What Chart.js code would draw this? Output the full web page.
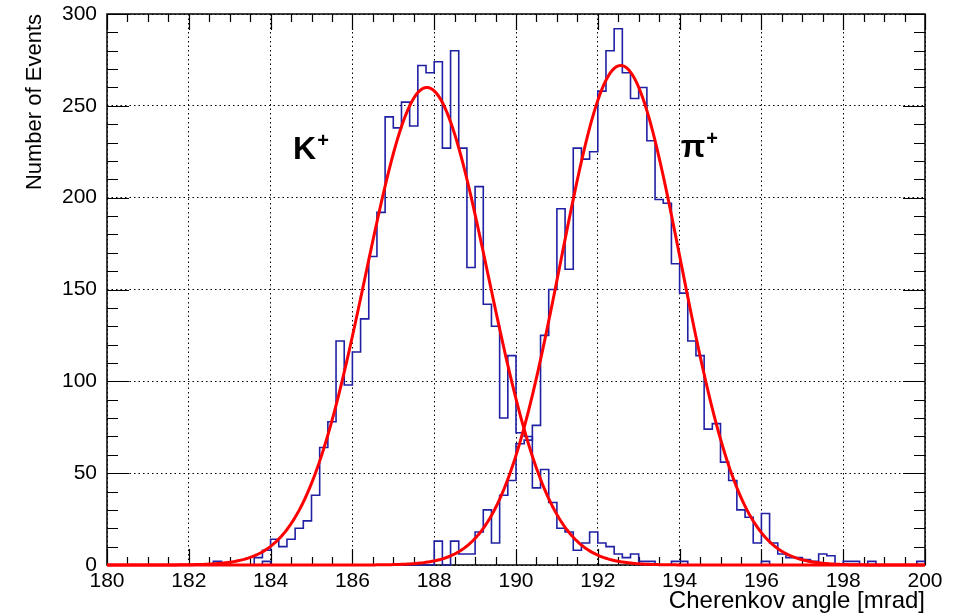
<!DOCTYPE html>
<html lang="en">
<head>
<meta charset="UTF-8">
<title>Cherenkov angle</title>
<script src="https://cdn.jsdelivr.net/npm/chart.js@4.4.1/dist/chart.umd.min.js"></script>
<style>
    html, body { margin: 0; padding: 0; background: #fff; }
    #wrap { width: 970px; height: 616px; }
</style>
</head>
<body>
<div id="wrap"><canvas id="chart" width="970" height="616"></canvas></div>
<script>
// binning of both histograms (mrad)
var xMin = 180, xMax = 200, binWidth = 0.2;

// events per 0.2 mrad bin, 100 bins from 180 to 200
var kaonCounts = [
    0, 0, 0, 0, 0, 0, 0, 0, 0, 0,
    0, 0, 0, 2, 0, 0, 0, 0, 4, 8,
    14, 10, 14, 20, 24, 38, 64, 78, 122, 98,
    116, 134, 168, 192, 244, 238, 252, 239, 272, 268,
    274, 227, 280, 227, 162, 206, 142, 130, 80, 114,
    72, 70, 42, 52, 34, 20, 18, 8, 12, 18,
    12, 10, 6, 4, 6, 2, 2, 0, 0, 2,
    2, 0, 0, 0, 0, 0, 0, 0, 0, 0,
    2, 0, 0, 0, 0, 0, 0, 0, 0, 0,
    0, 0, 0, 0, 0, 0, 0, 0, 0, 0
];
var pionCounts = [
    0, 0, 0, 0, 0, 0, 0, 0, 0, 0,
    0, 0, 0, 0, 0, 0, 0, 0, 0, 2,
    0, 0, 0, 0, 0, 0, 0, 0, 0, 0,
    0, 0, 0, 0, 0, 0, 0, 0, 0, 0,
    13, 0, 13, 6, 6, 18, 30, 12, 38, 46,
    66, 68, 76, 125, 150, 194, 161, 227, 221, 225,
    258, 280, 292, 268, 254, 260, 231, 199, 197, 164,
    148, 122, 114, 74, 77, 56, 46, 30, 26, 12,
    28, 12, 6, 4, 4, 3, 2, 6, 5, 0,
    2, 2, 0, 2, 0, 0, 0, 0, 0, 2
];

// gaussian fits (red curves), K+ then pi+
var fitAmplitude = [260, 272];
var fitMean = [187.82, 192.56];
var fitSigma = [1.50, 1.47];

// axis ticks
var xTickStep = 2, xMinorStep = 0.5;
var yMax = 300, yTickStep = 50, yMinorStep = 10;

// particle labels, placed in data coordinates
var labelText = ['K', 'π'];
var labelX = [184.55, 194.03];
var labelY = [221, 222];

var fontFamily = '"Liberation Sans", Arial, Helvetica, sans-serif';
var histColor = '#2020a4';

function histPoints(counts) {
    var pts = [];
    for (var i = 0; i < counts.length; i++) {
        pts.push({ x: Math.round((xMin + i * binWidth) * 10) / 10, y: counts[i] });
    }
    pts.push({ x: xMax, y: counts[counts.length - 1] });
    return pts;
}

function fitPoints(k) {
    var pts = [];
    for (var i = 0; i <= 400; i++) {
        var x = xMin + i * (xMax - xMin) / 400;
        var d = (x - fitMean[k]) / fitSigma[k];
        pts.push({ x: x, y: fitAmplitude[k] * Math.exp(-0.5 * d * d) });
    }
    return pts;
}

// ROOT style frame with inward ticks on all four sides
var rootFrame = {
    id: 'rootFrame',
    beforeDatasetsDraw: function (chart) {
        var c = chart.ctx, a = chart.chartArea;
        var xs = chart.scales.x, ys = chart.scales.y;
        c.save();
        c.strokeStyle = '#000';
        c.lineWidth = 1.2;
        c.beginPath();
        var nx = Math.round((xMax - xMin) / xMinorStep);
        var perMajorX = Math.round(xTickStep / xMinorStep);
        for (var i = 0; i <= nx; i++) {
            var px = Math.round(xs.getPixelForValue(xMin + i * xMinorStep)) + 0.5;
            var len = (i % perMajorX === 0) ? 16 : 8;
            c.moveTo(px, a.bottom); c.lineTo(px, a.bottom - len);
            c.moveTo(px, a.top); c.lineTo(px, a.top + len);
        }
        var ny = Math.round(yMax / yMinorStep);
        var perMajorY = Math.round(yTickStep / yMinorStep);
        for (var j = 0; j <= ny; j++) {
            var py = Math.round(ys.getPixelForValue(j * yMinorStep)) + 0.5;
            var l = (j % perMajorY === 0) ? 22 : 11;
            c.moveTo(a.left, py); c.lineTo(a.left + l, py);
            c.moveTo(a.right, py); c.lineTo(a.right - l, py);
        }
        c.stroke();
        c.lineWidth = 1.5;
        c.strokeRect(a.left, a.top, a.right - a.left, a.bottom - a.top);
        c.restore();
    },
    afterDraw: function (chart) {
        var c = chart.ctx;
        var xs = chart.scales.x, ys = chart.scales.y;
        c.save();
        c.fillStyle = '#000';
        c.textBaseline = 'alphabetic';
        c.textAlign = 'left';
        for (var i = 0; i < labelText.length; i++) {
            var px = xs.getPixelForValue(labelX[i]);
            var py = ys.getPixelForValue(labelY[i]);
            c.font = 'bold 32px ' + fontFamily;
            c.fillText(labelText[i], px, py);
            var w = c.measureText(labelText[i]).width;
            c.font = 'bold 20px ' + fontFamily;
            c.fillText('+', px + w + 1, py - 12);
        }
        c.restore();
    }
};

var ctx = document.getElementById('chart').getContext('2d');
new Chart(ctx, {
    type: 'line',
    data: {
        datasets: [
            { label: 'K+ fit', data: fitPoints(0), borderColor: '#ff0000', borderWidth: 3,
              pointRadius: 0, fill: false, order: 0, clip: false },
            { label: 'pi+ fit', data: fitPoints(1), borderColor: '#ff0000', borderWidth: 3,
              pointRadius: 0, fill: false, order: 0, clip: false },
            { label: 'K+', data: histPoints(kaonCounts), stepped: true, borderColor: histColor,
              borderWidth: 1.6, pointRadius: 0, fill: false, order: 1, clip: false },
            { label: 'pi+', data: histPoints(pionCounts), stepped: true, borderColor: histColor,
              borderWidth: 1.6, pointRadius: 0, fill: false, order: 1, clip: false }
        ]
    },
    options: {
        responsive: false,
        animation: false,
        events: [],
        layout: { padding: { top: 14, right: 45, left: 0, bottom: 0 } },
        plugins: {
            legend: { display: false },
            tooltip: { enabled: false }
        },
        scales: {
            x: {
                type: 'linear',
                min: xMin,
                max: xMax,
                afterFit: function (s) {
                    s.height = 51;
                    s.paddingLeft = 0; s.paddingRight = 0;
                },
                ticks: {
                    stepSize: xTickStep,
                    autoSkip: false,
                    maxRotation: 0,
                    padding: 4,
                    color: '#000',
                    font: { family: fontFamily, size: 21 }
                },
                grid: { color: '#000', lineWidth: 1, drawTicks: false },
                border: { display: false, dash: [1.5, 3] },
                title: {
                    display: true,
                    text: 'Cherenkov angle [mrad]',
                    align: 'end',
                    color: '#000',
                    font: { family: fontFamily, size: 24 },
                    padding: { top: 0, bottom: 0 }
                }
            },
            y: {
                min: 0,
                max: yMax,
                afterFit: function (s) {
                    s.width = 107;
                    s.paddingTop = 0; s.paddingBottom = 0;
                },
                ticks: {
                    stepSize: yTickStep,
                    padding: 10,
                    color: '#000',
                    font: { family: fontFamily, size: 21 }
                },
                grid: { color: '#000', lineWidth: 1, drawTicks: false },
                border: { display: false, dash: [1.5, 3] },
                title: {
                    display: true,
                    text: 'Number of Events',
                    align: 'end',
                    color: '#000',
                    font: { family: fontFamily, size: 22 },
                    padding: { top: 22, bottom: 0 }
                }
            }
        }
    },
    plugins: [rootFrame]
});
</script>
</body>
</html>
